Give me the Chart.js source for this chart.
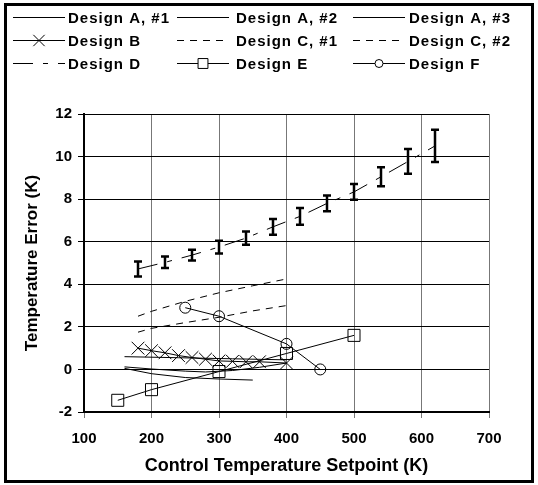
<!DOCTYPE html>
<html>
<head>
<meta charset="utf-8">
<script src="https://cdn.jsdelivr.net/npm/chart.js@4/dist/chart.umd.min.js"></script>
<style>
  body { margin: 0; background: #fff; }
  #wrap { width: 538px; height: 485px; }
</style>
</head>
<body>
<div id="wrap"><canvas id="chart" width="538" height="485"></canvas></div>
<script>
// legend names, in legend order (3 per row)
const seriesNames = ['Design A, #1', 'Design A, #2', 'Design A, #3',
                     'Design B', 'Design C, #1', 'Design C, #2',
                     'Design D', 'Design E', 'Design F'];

// Design A runs
const a1X = [160, 240, 320, 400];
const a1Y = [0.6, 0.55, 0.5, 0.45];
const a2X = [160, 200, 250, 280, 320, 360, 400];
const a2Y = [0.12, 0.02, -0.08, -0.12, -0.05, 0.1, 0.3];
const a3X = [160, 200, 250, 300, 350];
const a3Y = [0.05, -0.2, -0.38, -0.45, -0.5];

// Design B
const bX = [180, 200, 220, 240, 260, 280, 300, 320, 340, 360, 400];
const bY = [1.0, 0.88, 0.78, 0.65, 0.56, 0.48, 0.4, 0.38, 0.36, 0.36, 0.3];

// Design C runs
const c1X = [180, 200, 250, 300, 350, 400];
const c1Y = [2.5, 2.73, 3.2, 3.6, 3.93, 4.25];
const c2X = [180, 200, 250, 300, 350, 400];
const c2Y = [1.75, 1.93, 2.2, 2.45, 2.75, 3.0];

// Design D: measured points with error bars
const dX = [180, 220, 260, 300, 340, 380, 420, 460, 500, 540, 580, 620];
const dY = [4.72, 5.03, 5.37, 5.75, 6.17, 6.7, 7.19, 7.8, 8.34, 9.05, 9.77, 10.5];
const dErr = [0.35, 0.27, 0.25, 0.3, 0.31, 0.37, 0.39, 0.37, 0.37, 0.45, 0.58, 0.76];

// Design E
const eX = [150, 200, 300, 400, 500];
const eY = [-1.45, -0.95, -0.1, 0.75, 1.6];

// Design F
const fX = [250, 300, 400, 450];
const fY = [2.9, 2.5, 1.2, 0.0];

// axis ticks
const xTicks = [100, 200, 300, 400, 500, 600, 700];
const yTicks = [-2, 0, 2, 4, 6, 8, 10, 12];

function pts(xs, ys) {
    return xs.map((x, i) => ({ x: x, y: ys[i] }));
}

function series(i, xs, ys, extra) {
    return Object.assign({
        label: seriesNames[i],
        data: pts(xs, ys),
        showLine: true,
        borderColor: '#000',
        borderWidth: 1,
        pointRadius: 0,
        pointBorderColor: '#000',
        pointBackgroundColor: 'rgba(0,0,0,0)',
        pointBorderWidth: 1,
        borderDash: []
    }, extra || {});
}

const datasets = [
    series(0, a1X, a1Y),
    series(1, a2X, a2Y),
    series(2, a3X, a3Y),
    series(3, bX, bY, { pointStyle: 'crossRot', pointRadius: 9, legendRadius: 8 }),
    series(4, c1X, c1Y, { borderDash: [7, 6] }),
    series(5, c2X, c2Y, { borderDash: [7, 6] }),
    series(6, dX, dY, { borderDash: [20, 10, 5, 10] }),
    series(7, eX, eY, { pointStyle: 'rect', pointRadius: 8.5, legendRadius: 7 }),
    series(8, fX, fY, { pointStyle: 'circle', pointRadius: 5.5, legendRadius: 4 })
];

function drawMarker(ctx, style, x, y, r) {
    ctx.beginPath();
    if (style === 'crossRot') {
        const o = r * Math.SQRT1_2;
        ctx.moveTo(x - o, y - o); ctx.lineTo(x + o, y + o);
        ctx.moveTo(x - o, y + o); ctx.lineTo(x + o, y - o);
    } else if (style === 'rect') {
        const s = r * Math.SQRT1_2;
        ctx.rect(x - s, y - s, 2 * s, 2 * s);
        ctx.fillStyle = '#fff';
        ctx.fill();
    } else {
        ctx.arc(x, y, r, 0, Math.PI * 2);
        ctx.fillStyle = '#fff';
        ctx.fill();
    }
    ctx.stroke();
}

// legend grid + outer frame
const frameLegend = {
    id: 'frameLegend',
    beforeDraw(chart) {
        const ctx = chart.ctx;
        ctx.save();
        ctx.fillStyle = '#fff';
        ctx.fillRect(0, 0, chart.width, chart.height);
        ctx.restore();
    },
    afterDraw(chart) {
        const ctx = chart.ctx;
        const colLine = [13, 177, 353];
        const colText = [68, 236, 409];
        const rowY = [17, 40, 63];
        ctx.save();
        chart.data.datasets.forEach((ds, i) => {
            const c = i % 3, r = Math.floor(i / 3);
            const y = rowY[r] + 0.5;
            ctx.strokeStyle = '#000';
            ctx.lineWidth = 1;
            ctx.setLineDash(ds.borderDash || []);
            ctx.beginPath();
            ctx.moveTo(colLine[c], y);
            ctx.lineTo(colLine[c] + 52, y);
            ctx.stroke();
            ctx.setLineDash([]);
            if (ds.legendRadius) drawMarker(ctx, ds.pointStyle, colLine[c] + 26, y, ds.legendRadius);
            ctx.fillStyle = '#000';
            ctx.font = 'bold 15px "Liberation Sans", Arial, sans-serif';
            ctx.letterSpacing = '1px';
            ctx.textBaseline = 'middle';
            ctx.textAlign = 'left';
            ctx.fillText(ds.label, colText[c], y + 1);
            ctx.letterSpacing = '0px';
        });
        ctx.lineWidth = 3;
        ctx.strokeStyle = '#000';
        ctx.strokeRect(5.5, 4.5, 527, 477);
        ctx.restore();
    }
};

// Design D error bars
const errorBars = {
    id: 'errorBars',
    afterDatasetsDraw(chart) {
        const ctx = chart.ctx;
        const xs = chart.scales.x, ys = chart.scales.y;
        ctx.save();
        ctx.strokeStyle = '#000';
        ctx.lineWidth = 2.5;
        dX.forEach((x, i) => {
            const px = xs.getPixelForValue(x);
            const top = ys.getPixelForValue(dY[i] + dErr[i]);
            const bot = ys.getPixelForValue(dY[i] - dErr[i]);
            ctx.beginPath();
            ctx.moveTo(px, top); ctx.lineTo(px, bot);
            ctx.moveTo(px - 4, top); ctx.lineTo(px + 4, top);
            ctx.moveTo(px - 4, bot); ctx.lineTo(px + 4, bot);
            ctx.stroke();
        });
        ctx.restore();
    }
};

Chart.defaults.font.family = '"Liberation Sans", Arial, sans-serif';
Chart.defaults.color = '#000';

new Chart(document.getElementById('chart'), {
    type: 'scatter',
    data: { datasets: datasets },
    plugins: [frameLegend, errorBars],
    options: {
        responsive: false,
        animation: false,
        layout: { padding: { top: 114, left: 0, right: 49, bottom: 0 } },
        plugins: { legend: { display: false }, tooltip: { enabled: false } },
        scales: {
            x: {
                type: 'linear',
                min: xTicks[0],
                max: xTicks[xTicks.length - 1],
                afterBuildTicks: s => { s.ticks = xTicks.map(v => ({ value: v })); },
                afterFit: s => { s.height = 73; },
                grid: { color: '#777', tickColor: '#777', tickLength: 6, lineWidth: 1 },
                border: { color: '#000', width: 2 },
                ticks: { font: { size: 15, weight: 'bold' }, padding: 12, maxRotation: 0 },
                title: { display: true, text: 'Control Temperature Setpoint (K)',
                         font: { size: 18, weight: 'bold' }, padding: { top: 0, bottom: 8 } }
            },
            y: {
                type: 'linear',
                min: yTicks[0],
                max: yTicks[yTicks.length - 1],
                afterBuildTicks: s => { s.ticks = yTicks.map(v => ({ value: v })); },
                afterFit: s => { s.width = 84; },
                grid: { color: '#000', tickColor: '#000', tickLength: 6, lineWidth: 1 },
                border: { color: '#000', width: 2 },
                ticks: { font: { size: 15, weight: 'bold' }, padding: 6 },
                title: { display: true, text: 'Temperature Error (K)',
                         font: { size: 17, weight: 'bold' }, padding: { top: 22, bottom: 0 } }
            }
        }
    }
});
</script>
</body>
</html>
